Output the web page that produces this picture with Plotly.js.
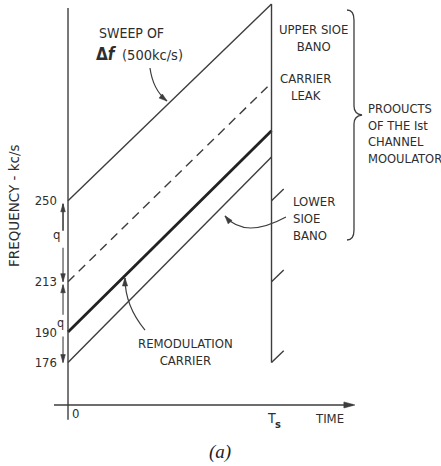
<!DOCTYPE html>
<html><head><meta charset="utf-8">
<script src="https://cdn.plot.ly/plotly-3.0.1.min.js"></script>
<style>html,body{margin:0;padding:0;background:#fff}#chart{width:441px;height:466px}</style>
</head><body><div id="chart"></div>
<script>
// ---------------- data ----------------
const sweepTime = [0, 1];                                   // 0 .. Ts
const bandNames = ['Upper side band', 'Carrier leak', 'Remodulation carrier', 'Lower side band'];
const bandStart = [250, 213, 190, 176];                      // kc/s at t = 0
const bandEnd   = [340, 304, 282, 270];                      // kc/s at t = Ts
const restartLevels = [250, 213, 176];                       // next sweep starts at Ts
const freqTicks = [176, 190, 213, 250];
const freqTickText = ['176', '190', '213', '250'];
const timeTickText = ['0', 'T', 's', 'TIME'];

// ---------------- layout constants ----------------
const W = 441, H = 466;
const xRange = [-0.3342, 1.8329];
const yRange = [128.68, 341.86];
const INK = '#3d3d3d', TXT = '#2e2e2e';
const FONT = 'DejaVu Sans Condensed, DejaVu Sans, sans-serif';
const axisLevel = 156.6, axisStartT = -0.069, axisEndT = 1.40;
const leftTop = 338.2, leftBottom = 149.8;
const restartDt = 0.06;

// scale helpers (data -> pixel, pixel -> paper)
const xPix = t => (t - xRange[0]) / (xRange[1] - xRange[0]) * W;
const yPix = f => (yRange[1] - f) / (yRange[1] - yRange[0]) * H;
const PX = px => px / W, PY = py => 1 - py / H;
const pt = (x, y) => PX(x).toFixed(4) + ',' + PY(y).toFixed(4);

const traces = [];
const styles = [
  {color: INK, width: 1.4, dash: 'solid'},
  {color: INK, width: 1.4, dash: '9px,6px'},
  {color: '#222', width: 2.8, dash: 'solid'},
  {color: INK, width: 1.4, dash: 'solid'}
];
bandNames.forEach((n, i) => {
  traces.push({type: 'scatter', mode: 'lines', name: n, x: sweepTime,
    y: [bandStart[i], bandEnd[i]], line: styles[i], showlegend: false, hoverinfo: 'skip'});
});
// start of next sweep at Ts
const slope = (bandEnd[0] - bandStart[0]) / (sweepTime[1] - sweepTime[0]);
const rx = [], ry = [];
restartLevels.forEach(l => { rx.push(sweepTime[1], sweepTime[1] + restartDt, null); ry.push(l, l + slope * restartDt, null); });
traces.push({type: 'scatter', mode: 'lines', x: rx, y: ry, line: {color: INK, width: 1.4}, showlegend: false, hoverinfo: 'skip'});
// frame: left vertical (frequency axis), right vertical at Ts, time axis
traces.push({type: 'scatter', mode: 'lines', x: [sweepTime[0], sweepTime[0]], y: [leftBottom, leftTop], line: {color: INK, width: 1.4}, showlegend: false, hoverinfo: 'skip'});
traces.push({type: 'scatter', mode: 'lines', x: [sweepTime[1], sweepTime[1]], y: [Math.min(...restartLevels), bandEnd[0]], line: {color: INK, width: 1.4}, showlegend: false, hoverinfo: 'skip'});
traces.push({type: 'scatter', mode: 'lines', x: [axisStartT, axisEndT], y: [axisLevel, axisLevel], line: {color: INK, width: 1.4}, showlegend: false, hoverinfo: 'skip'});

const tf = (s) => Object.assign({family: FONT, size: 13, color: TXT}, s || {});
const ann = [];
const txt = (px, py, text, extra) => ann.push(Object.assign({xref: 'paper', yref: 'paper', x: PX(px), y: PY(py),
  text: text, showarrow: false, font: tf(), xanchor: 'center', yanchor: 'middle'}, extra || {}));

// texts
txt(14, 206, 'FREQUENCY - kc/s', {textangle: -90, font: tf({family: 'DejaVu Sans, sans-serif', size: 13.5})});
txt(97, 33, 'SWEEP OF', {xanchor: 'left', font: tf({size: 14})});
txt(94, 54, 'Δ<i>f</i>', {xanchor: 'left', font: tf({size: 17, weight: 'bold'})});
txt(120, 55, '(500kc/s)', {xanchor: 'left', font: tf({size: 14.5})});
txt(313, 38, 'UPPER SIOE<br>BANO');
txt(305, 87, 'CARRIER<br>LEAK');
txt(291, 218, 'LOWER<br>SIOE<br>BANO', {xanchor: 'left', align: 'left'});
txt(366, 133, 'PROOUCTS<br>OF THE Ist<br>CHANNEL<br>MOOULATOR', {xanchor: 'left', align: 'left', font: tf({size: 12.8})});
txt(185, 352, 'REMODULATION<br>CARRIER');
txt(75, 413, timeTickText[0]);
txt(271, 418, timeTickText[1], {font: tf({size: 14})});
txt(277.5, 424, timeTickText[2], {font: tf({size: 11, weight: 'bold'})});
txt(329, 418, timeTickText[3]);
txt(220, 452, '(a)', {font: {family: 'Liberation Serif, serif', size: 19, color: '#222', style: 'italic'}});
txt(56, 234, 'q', {font: tf({size: 13})});
txt(60, 322, 'q', {font: tf({size: 12.5})});

// ---------- decorations: pointer curves, arrowheads, brace ----------
const shapes = [];
const stroke = (path, w) => shapes.push({type: 'path', xref: 'paper', yref: 'paper', line: {color: INK, width: w || 1.2}, path: path});
const headShape = (tx, ty, dx, dy, L, hw) => {
  const n = Math.hypot(dx, dy), ux = dx / n, uy = dy / n;
  const bx = tx - L * ux, by = ty - L * uy, nx = -uy, ny = ux;
  shapes.push({type: 'path', xref: 'paper', yref: 'paper', fillcolor: INK, line: {color: INK, width: 0.6},
    path: `M ${pt(tx, ty)} L ${pt(bx + hw * nx, by + hw * ny)} L ${pt(bx - hw * nx, by - hw * ny)} Z`});
};
const curvedPointer = (p0, c, p2) => {
  stroke(`M ${pt(p0[0], p0[1])} Q ${pt(c[0], c[1])} ${pt(p2[0], p2[1])}`);
  headShape(p2[0], p2[1], p2[0] - c[0], p2[1] - c[1], 8, 2.6);
};
curvedPointer([150, 68], [153, 90], [167, 101]);     // sweep of Δf
curvedPointer([286, 217], [244.5, 239.5], [225, 216]); // lower side band
curvedPointer([145, 330], [125, 306], [125, 278]);   // remodulation carrier

// q spacing arrows beside the frequency axis
const qx = xPix(sweepTime[0]) - 5;
[[250, 3, 27, 1.6], [213, 0, -34, 1.1], [213, 3, 30, 1.1], [176, 0, -26, 1.1]].forEach(([lvl, gap, len, w]) => {
  const dir = len > 0 ? -1 : 1;                  // arrow points towards the level
  const tip = yPix(lvl) + gap * -dir;
  const tail = tip + len;
  stroke(`M ${pt(qx, tail)} L ${pt(qx, tip)}`, w);
  headShape(qx, tip, 0, dir, 8, 2.3);
});
// arrow at the end of the time axis
headShape(xPix(axisEndT) + 2, yPix(axisLevel), 1, 0, 11, 3);

// brace for the 1st channel modulator products
stroke(`M ${pt(347, 10)} Q ${pt(354, 10)} ${pt(354, 20)} L ${pt(354, 106)} Q ${pt(354, 114)} ${pt(362, 115)} Q ${pt(354, 116)} ${pt(354, 124)} L ${pt(354, 230)} Q ${pt(354, 240)} ${pt(347, 240)}`, 1.3);

const layout = {
  width: W, height: H, margin: {l: 0, r: 0, t: 0, b: 0},
  paper_bgcolor: '#fff', plot_bgcolor: '#fff', showlegend: false,
  xaxis: {range: xRange, visible: false, fixedrange: true},
  yaxis: {range: yRange, anchor: 'free', position: 57 / W, tickvals: freqTicks, ticktext: freqTickText,
    ticks: '', showline: false, showgrid: false, zeroline: false, fixedrange: true,
    tickfont: tf({size: 13})},
  annotations: ann, shapes: shapes
};
Plotly.newPlot('chart', traces, layout, {staticPlot: true, displayModeBar: false});
</script>
</body></html>
